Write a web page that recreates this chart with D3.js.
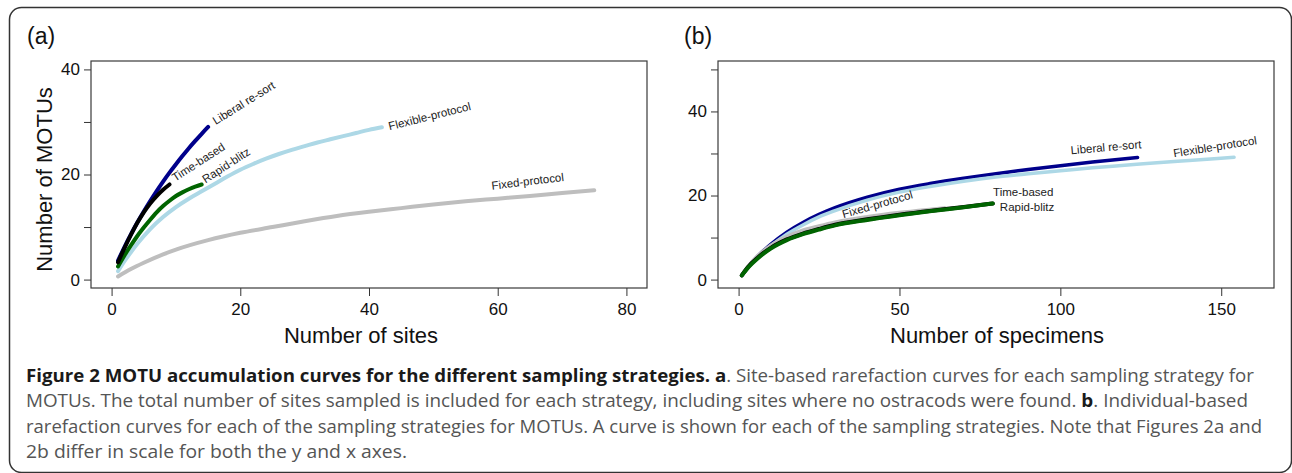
<!DOCTYPE html>
<html>
<head>
<meta charset="utf-8">
<script src="https://cdn.jsdelivr.net/npm/d3@7"></script>
<style>
  body { margin: 0; background: #ffffff; }
  #figure text { font-family: "Liberation Sans", Arial, sans-serif; }
  #figure .caption text { font-family: "Open Sans", sans-serif; }
</style>
</head>
<body>
<svg id="figure" width="1292" height="473"></svg>
<script>
// ---- (a) site-based rarefaction: number of sites vs MOTUs ----
const sitesLiberal = [1, 2, 3, 4, 5, 6, 7, 8, 9, 10, 11, 12, 13, 14, 15];
const motusLiberalA = [3.6, 6.2, 8.6, 10.85, 12.95, 14.95, 16.85, 18.65, 20.35, 21.95, 23.5, 25.0, 26.4, 27.75, 29.05];
const sitesTime = [1, 2, 3, 4, 5, 6, 7, 8, 9];
const motusTimeA = [3.3, 6.0, 8.5, 10.8, 12.8, 14.5, 15.9, 17.1, 18.1];
const sitesRapid = [1, 2, 3, 4, 5, 6, 7, 8, 9, 10, 11, 12, 13, 14];
const motusRapidA = [2.5, 4.6, 6.5, 8.3, 9.9, 11.4, 12.8, 14.0, 15.0, 15.9, 16.6, 17.2, 17.7, 18.1];
const sitesFlexible = [1, 2, 3, 4, 6, 8, 10, 12, 14, 16, 18, 20, 22, 24, 26, 28, 30, 32, 34, 36, 38, 40, 42];
const motusFlexibleA = [1.6, 3.5, 5.2, 6.8, 9.6, 11.9, 13.8, 15.4, 16.8, 18.2, 19.6, 20.9, 22.0, 23.0, 23.9, 24.7, 25.4, 26.1, 26.7, 27.3, 27.9, 28.5, 29.0];
const sitesFixed = [1, 3, 5, 8, 10, 15, 20, 25, 30, 35, 40, 45, 50, 55, 60, 65, 70, 75];
const motusFixedA = [0.6, 2.0, 3.2, 4.8, 5.7, 7.5, 8.9, 10.0, 11.1, 12.1, 12.9, 13.6, 14.3, 14.9, 15.4, 15.9, 16.5, 17.0];

// ---- (b) individual-based rarefaction: number of specimens vs MOTUs ----
const specLiberal = [1, 3, 6, 10, 15, 20, 25, 30, 40, 50, 60, 70, 80, 90, 100, 110, 124];
const motusLiberalB = [1.0, 3.0, 5.6, 8.4, 11.3, 13.6, 15.5, 17.1, 19.6, 21.5, 22.9, 24.1, 25.2, 26.2, 27.1, 27.95, 29.05];
const specFlexible = [1, 3, 6, 10, 15, 20, 25, 30, 40, 50, 60, 70, 80, 90, 100, 110, 120, 130, 140, 154];
const motusFlexibleB = [1.0, 2.9, 5.3, 8.0, 10.8, 13.0, 14.9, 16.4, 18.9, 20.8, 22.2, 23.4, 24.4, 25.2, 25.9, 26.6, 27.2, 27.8, 28.35, 29.1];
const specFixed = [1, 3, 6, 10, 15, 20, 25, 30, 40, 50, 60, 64];
const motusFixedB = [1.0, 3.1, 5.6, 8.1, 10.2, 11.7, 12.7, 13.6, 14.9, 15.9, 16.7, 17.0];
const specTime = [1, 3, 6, 10, 15, 20, 25, 30, 40, 50, 60, 70, 79];
const motusTimeB = [1.0, 3.05, 5.25, 7.55, 9.55, 10.95, 12.05, 13.05, 14.35, 15.45, 16.4, 17.25, 18.1];
const specRapid = [1, 3, 6, 10, 15, 20, 25, 30, 40, 50, 60, 70, 79];
const motusRapidB = [1.0, 2.9, 5.1, 7.4, 9.4, 10.8, 11.9, 12.9, 14.2, 15.3, 16.3, 17.2, 18.1];

// tick values
const xTicksA = [0, 20, 40, 60, 80];
const xTicksB = [0, 50, 100, 150];
const yTicksA = [0, 10, 20, 30, 40];
const yTicksB = [0, 10, 20, 30, 40, 50];
const yLabelled = [0, 20, 40];

const colours = {
    liberal: "#00008B",
    time: "#000000",
    rapid: "#006400",
    flexible: "#ADD8E6",
    fixed: "#BEBEBE"
};

const svg = d3.select("#figure");

// outer rounded frame
svg.append("rect")
    .attr("x", 9.5)
    .attr("y", 7.5)
    .attr("width", 1282)
    .attr("height", 465)
    .attr("rx", 12)
    .attr("fill", "none")
    .attr("stroke", "#333333")
    .attr("stroke-width", 1.5);

const panels = [
    {
        tag: "(a)", tagX: 27, left: 91, right: 647, top: 61, bottom: 288,
        xDomain: [-3.2, 83.2], yDomain: [-1.6, 41.6],
        xTicks: xTicksA, yTicks: yTicksA,
        xTitle: "Number of sites", xTitleX: 361, yTitle: "Number of MOTUs",
        series: [
            {x: sitesFixed, y: motusFixedA, colour: colours.fixed, w: 4,
                label: "Fixed-protocol", lx: 59.1, ly: 17.1, angle: -7},
            {x: sitesFlexible, y: motusFlexibleA, colour: colours.flexible, w: 4,
                label: "Flexible-protocol", lx: 43.2, ly: 28.4, angle: -14},
            {x: sitesRapid, y: motusRapidA, colour: colours.rapid, w: 4,
                label: "Rapid-blitz", lx: 14.6, ly: 18.3, angle: -33},
            {x: sitesLiberal, y: motusLiberalA, colour: colours.liberal, w: 4,
                label: "Liberal re-sort", lx: 16.2, ly: 29.4, angle: -32},
            {x: sitesTime, y: motusTimeA, colour: colours.time, w: 4,
                label: "Time-based", lx: 9.9, ly: 18.6, angle: -33}
        ]
    },
    {
        tag: "(b)", tagX: 684, left: 718, right: 1274, top: 61, bottom: 288,
        xDomain: [-6.4, 166.4], yDomain: [-2, 52],
        xTicks: xTicksB, yTicks: yTicksB,
        xTitle: "Number of specimens", xTitleX: 997, yTitle: null,
        series: [
            {x: specLiberal, y: motusLiberalB, colour: colours.liberal, w: 3.5,
                label: "Liberal re-sort", lx: 103.3, ly: 29.8, angle: -5},
            {x: specFlexible, y: motusFlexibleB, colour: colours.flexible, w: 3.5,
                label: "Flexible-protocol", lx: 135.3, ly: 29.1, angle: -9},
            {x: specFixed, y: motusFixedB, colour: colours.fixed, w: 4,
                label: "Fixed-protocol", lx: 32.6, ly: 14.6, angle: -16},
            {x: specTime, y: motusTimeB, colour: colours.time, w: 4,
                label: "Time-based", lx: 79.1, ly: 20.0, angle: 0},
            {x: specRapid, y: motusRapidB, colour: colours.rapid, w: 4,
                label: "Rapid-blitz", lx: 81.2, ly: 16.3, angle: 0}
        ]
    }
];

function drawPanel(p) {
    const x = d3.scaleLinear().domain(p.xDomain).range([p.left, p.right]);
    const y = d3.scaleLinear().domain(p.yDomain).range([p.bottom, p.top]);
    const g = svg.append("g");

    // x axis
    const xAxis = g.append("g")
        .attr("transform", `translate(0,${p.bottom})`)
        .call(d3.axisBottom(x).tickValues(p.xTicks).tickSize(8).tickPadding(7).tickFormat(d3.format("d")));
    xAxis.attr("font-size", 17).attr("font-family", null);
    xAxis.select(".domain").remove();
    xAxis.selectAll("line").attr("stroke", "#333");
    xAxis.selectAll("text").attr("fill", "#111");

    // y axis, only every second tick labelled
    const yAxis = g.append("g")
        .attr("transform", `translate(${p.left},0)`)
        .call(d3.axisLeft(y).tickValues(p.yTicks).tickSize(7).tickPadding(4)
            .tickFormat(d => yLabelled.includes(d) ? d : ""));
    yAxis.attr("font-size", 17).attr("font-family", null);
    yAxis.select(".domain").remove();
    yAxis.selectAll("line").attr("stroke", "#333");
    yAxis.selectAll("text").attr("fill", "#111");

    // curves
    const line = d3.line()
        .x(d => x(d[0]))
        .y(d => y(d[1]))
        .curve(d3.curveMonotoneX);
    for (const s of p.series) {
        g.append("path")
            .attr("d", line(d3.zip(s.x, s.y)))
            .attr("fill", "none")
            .attr("stroke", s.colour)
            .attr("stroke-width", s.w)
            .attr("stroke-linecap", "round")
            .attr("stroke-linejoin", "round");
    }
    for (const s of p.series) {
        g.append("text")
            .attr("transform", `translate(${x(s.lx)},${y(s.ly)}) rotate(${s.angle})`)
            .attr("font-size", 11.5)
            .attr("fill", "#222")
            .text(s.label);
    }

    // plot box
    g.append("rect")
        .attr("x", p.left)
        .attr("y", p.top)
        .attr("width", p.right - p.left)
        .attr("height", p.bottom - p.top)
        .attr("fill", "none")
        .attr("stroke", "#3a3a3a")
        .attr("stroke-width", 1.2);

    // titles
    g.append("text")
        .attr("x", p.xTitleX)
        .attr("y", 343)
        .attr("text-anchor", "middle")
        .attr("font-size", 22)
        .attr("fill", "#111")
        .text(p.xTitle);
    if (p.yTitle) {
        g.append("text")
            .attr("transform", `translate(52,${(p.top + p.bottom) / 2 + 5}) rotate(-90)`)
            .attr("text-anchor", "middle")
            .attr("font-size", 22)
            .attr("fill", "#111")
            .text(p.yTitle);
    }
    g.append("text")
        .attr("x", p.tagX)
        .attr("y", 44)
        .attr("font-size", 23)
        .attr("fill", "#111")
        .text(p.tag);
}

panels.forEach(drawPanel);

// ---- caption ----
const captionLines = [
    [["Figure 2 MOTU accumulation curves for the different sampling strategies. a", true],
        [". Site-based rarefaction curves for each sampling strategy for", false]],
    [["MOTUs. The total number of sites sampled is included for each strategy, including sites where no ostracods were found. ", false],
        ["b", true], [". Individual-based", false]],
    [["rarefaction curves for each of the sampling strategies for MOTUs. A curve is shown for each of the sampling strategies. Note that Figures 2a and", false]],
    [["2b differ in scale for both the y and x axes.", false]]
];
const captionRight = [1254, 1248, 1262, 407];

const caption = svg.append("g").classed("caption", true);
captionLines.forEach((segs, i) => {
    const t = caption.append("text")
        .attr("x", 26)
        .attr("y", 382 + i * 25.3)
        .attr("font-size", 18)
        .attr("xml:space", "preserve");
    for (const [str, bold] of segs) {
        t.append("tspan")
            .attr("font-weight", bold ? "bold" : null)
            .attr("fill", bold ? "#1a1a1a" : "#555555")
            .text(str);
    }
    // squeeze each line to the width it has in the figure
    const natural = t.node().getComputedTextLength();
    const target = captionRight[i] - 26;
    if (Math.abs(natural - target) > 2) {
        t.attr("textLength", target).attr("lengthAdjust", "spacingAndGlyphs");
    }
});
</script>
</body>
</html>
